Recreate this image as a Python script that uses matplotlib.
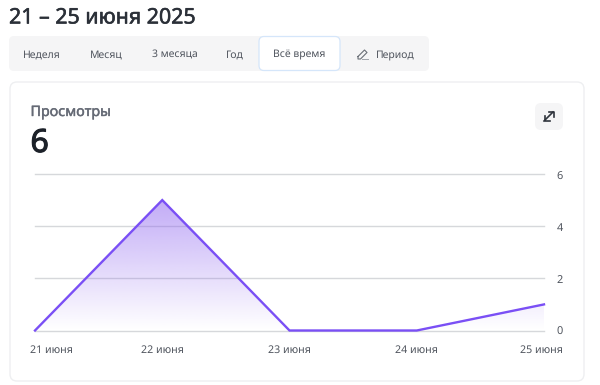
import numpy as np
import matplotlib
matplotlib.use("Agg")
import matplotlib.pyplot as plt
import matplotlib.patheffects as pe
from matplotlib.patches import FancyBboxPatch, Polygon
from matplotlib.colors import LinearSegmentedColormap
from matplotlib.transforms import ScaledTranslation

plt.rcParams['font.family'] = ['Noto Sans', 'DejaVu Sans']
plt.rcParams['text.hinting'] = 'no_hinting'
plt.rcParams['text.hinting_factor'] = 1

dates = ["21 июня", "22 июня", "23 июня", "24 июня", "25 июня"]
views = [0, 5, 0, 0, 1]
y_ticks = [0, 2, 4, 6]
tabs = ["Неделя", "Месяц", "3 месяца", "Год", "Всё время", "Период"]
tab_centers = [42, 106, 174.5, 235, 299.5, 395]
title = "21 – 25 июня 2025"
metric = "Просмотры"
total = "6"

W, H = 600, 385
fig = plt.figure(figsize=(W / 100, H / 100), dpi=100, facecolor="white")

ui = fig.add_axes([0, 0, 1, 1], zorder=0)
ui.set_xlim(0, W)
ui.set_ylim(H, 0)
ui.axis("off")

def box(x0, y0, x1, y1, r, fc, ec="none", lw=1.0, z=1):
    ui.add_patch(FancyBboxPatch((x0 + r, y0 + r), x1 - x0 - 2 * r, y1 - y0 - 2 * r,
                                boxstyle=f"round,pad={r},rounding_size={r}",
                                fc=fc, ec=ec, lw=lw, zorder=z))

def heavy(t, w, c):
    t.set_path_effects([pe.withStroke(linewidth=w, foreground=c)])

heavy(ui.text(9, 23.5, title, fontsize=15.4, color="#2b3038", va="baseline", ha="left"), 0.4, "#2b3038")
box(9, 36, 429, 71, 5, "#f5f5f6")
box(259, 36.5, 340, 70.5, 5, "white", "#d5e6fa", 0.9, z=2)
for name, cx in zip(tabs, tab_centers):
    ui.text(cx, 57.3, name, fontsize=7.5, color="#50555e", va="baseline", ha="center", zorder=3)

# pencil icon
ui.plot([358, 364.5, 367, 360.5, 358, 358], [56.5, 50, 52.5, 59, 59, 56.5], color="#6b7078", lw=0.8, zorder=3)
ui.plot([362, 368], [59, 59], color="#a0a4aa", lw=0.7, zorder=3)

box(10, 82, 584, 381, 7, "white", "#eeeff1", 1.0)
heavy(ui.text(30.5, 116, metric, fontsize=10.3, color="#656a75", va="baseline", ha="left"), 0.3, "#656a75")
heavy(ui.text(30.5, 152, total, fontsize=23, color="#1c2129", va="baseline", ha="left"), 0.8, "#1c2129")

box(535, 103, 563, 130, 6, "#f5f5f6")
ui.plot([544, 553], [121, 112], color="#2f343c", lw=1.2, zorder=3)
ui.plot([548.5, 553.5, 553.5], [112, 112, 117], color="#2f343c", lw=1.2, zorder=3)
ui.plot([544.5, 544.5, 549.5], [116, 121, 121], color="#2f343c", lw=1.2, zorder=3)

ax = fig.add_axes([35 / W, 1 - 330.5 / H, (544 - 35) / W, (330.5 - 174) / H], zorder=1)
ax.patch.set_alpha(0)
x = np.arange(len(dates))
for s in ax.spines.values():
    s.set_visible(False)

ax.set_yticks(y_ticks)
ax.yaxis.tick_right()
ax.tick_params(axis="both", length=0)
ylabels = ax.set_yticklabels(y_ticks, fontsize=7.9, color="#50555e")
ax.tick_params(axis="y", pad=9)
for lab, dy in zip(ylabels, [0, -1, -1, -2]):
    lab.set_transform(lab.get_transform() + ScaledTranslation(0, dy / 100, fig.dpi_scale_trans))

ax.set_xticks(x)
labels = ax.set_xticklabels(dates, fontsize=7.7, color="#50555e")
ax.tick_params(axis="x", pad=10)
labels[0].set_ha("left")
labels[-1].set_ha("right")
for lab, dx in zip(labels, [-4.5, 0, 0, 0, 18.5]):
    lab.set_transform(lab.get_transform() + ScaledTranslation(dx / 100, 0, fig.dpi_scale_trans))

cmap = LinearSegmentedColormap.from_list("fade", ["#8f66f000", "#8f66f08c"])
grad = np.linspace(1, 0, 256).reshape(-1, 1)
peak = max(views)
im = ax.imshow(grad, extent=[x[0], x[-1], 0, peak], aspect="auto", cmap=cmap, zorder=2,
               vmin=0, vmax=1, interpolation="bilinear")
clip = Polygon(list(zip(x, views)) + [(x[-1], 0), (x[0], 0)], closed=True,
               transform=ax.transData, fc="none", ec="none")
ax.add_patch(clip)
im.set_clip_path(clip)
ax.set_xlim(x[0], x[-1])
ax.set_ylim(0, 6)

for v in y_ticks:
    ax.axhline(v, color="#d6d8db", lw=1.0, zorder=1, clip_on=False)

ax.plot(x, views, color="#7a4ff5", lw=1.7, zorder=3, clip_on=False, solid_joinstyle="miter")

fig.savefig("out.png", dpi=100)
